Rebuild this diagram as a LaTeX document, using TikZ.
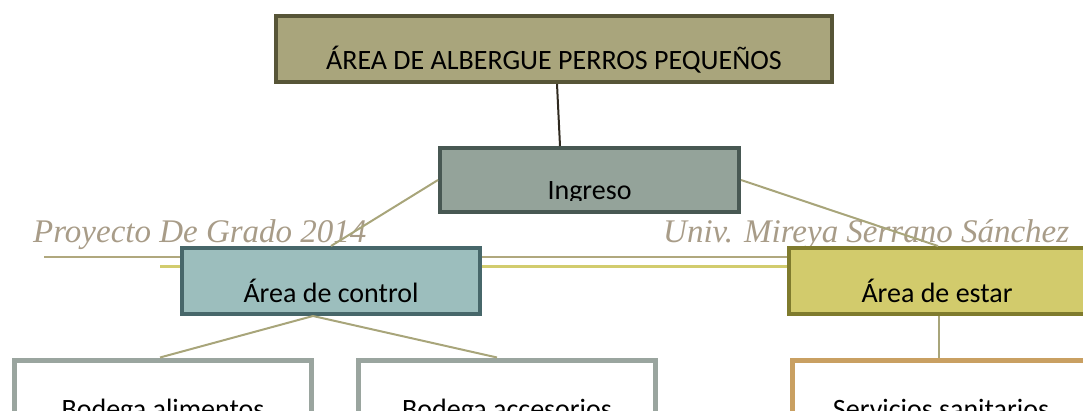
\documentclass[tikz,border=0pt]{standalone}
\usepackage{fontspec}
\setmainfont{Carlito}
\newfontfamily\wmfont{Liberation Serif}
\definecolor{topfill}{HTML}{A9A57C}
\definecolor{topdraw}{HTML}{575537}
\definecolor{ingfill}{HTML}{94A39A}
\definecolor{ingdraw}{HTML}{485853}
\definecolor{ctlfill}{HTML}{9CBEBD}
\definecolor{ctldraw}{HTML}{47676A}
\definecolor{estfill}{HTML}{D2CB6C}
\definecolor{estdraw}{HTML}{7F7B2D}
\definecolor{bodraw}{HTML}{9AA59F}
\definecolor{serdraw}{HTML}{C9A062}
\definecolor{link}{HTML}{A8A57A}
\definecolor{toplink}{HTML}{2F2A20}
\definecolor{wmtext}{HTML}{A89C88}
\definecolor{wmline}{HTML}{B0A87E}
\definecolor{wmlineb}{HTML}{D2CC6E}
\tikzset{
  box/.style={rectangle, line width=4pt, inner sep=0pt},
  lbl/.style={anchor=base, inner sep=0pt, font=\fontsize{28}{32}\selectfont},
  conn/.style={link, line width=2pt},
  wm/.style={anchor=base west, inner sep=0pt, text=wmtext, font=\wmfont\itshape\fontsize{33}{36}\selectfont},
}
\begin{document}
\begin{tikzpicture}[x=1pt,y=-1pt]
\useasboundingbox (0,0) rectangle (1083,411);
\clip (0,0) rectangle (1083,411);
% watermark
\node[wm] (wm1) at (33,243) {Proyecto De Grado 2014};
\node[wm] (wm2) at (663,243) {Univ. Mireya Serrano Sánchez};
\coordinate (l1a) at (44,257.5);
\coordinate (l1b) at (790,257.5);
\coordinate (l2a) at (160,266.5);
\coordinate (l2b) at (790,266.5);
\draw[wmline, line width=2pt] (l1a) -- (l1b);
\draw[wmlineb, line width=2.5pt] (l2a) -- (l2b);
% boxes
\node[box, draw=topdraw, fill=topfill, minimum width=556pt, minimum height=66pt] (top) at (554,49) {};
\node[box, draw=ingdraw, fill=ingfill, minimum width=299pt, minimum height=64pt] (ing) at (589.5,180) {};
\node[box, draw=ctldraw, fill=ctlfill, minimum width=298pt, minimum height=66pt] (ctl) at (331,281) {};
\node[box, draw=estdraw, fill=estfill, minimum width=298pt, minimum height=66pt] (est) at (938,281) {};
\node[box, draw=bodraw, fill=white, line width=5pt, minimum width=297pt, minimum height=100pt] (ba) at (163,410) {};
\node[box, draw=bodraw, fill=white, line width=5pt, minimum width=297pt, minimum height=100pt] (bc) at (507,410) {};
\node[box, draw=serdraw, fill=white, line width=5pt, minimum width=297pt, minimum height=100pt] (ss) at (941,410) {};
% connectors
\coordinate (tS) at (top.south -| 557,0);
\coordinate (iN) at (ing.north -| 560,0);
\draw[toplink, line width=2pt] (tS) -- (iN);
\draw[conn] (ing.west) -- (ctl.north);
\draw[conn] (ing.east) -- (est.north);
\coordinate (cS) at (ctl.south -| 313,0);
\coordinate (baN) at (ba.north -| 160,0);
\coordinate (bcN) at (bc.north -| 497,0);
\draw[conn] (cS) -- (baN);
\draw[conn] (cS) -- (bcN);
\coordinate (eS) at (est.south -| 939,0);
\coordinate (sN) at (ss.north -| 939,0);
\draw[conn] (eS) -- (sN);
% labels
\node[lbl] (tTop) at (554,70) {ÁREA DE ALBERGUE PERROS PEQUEÑOS};
\begin{scope}
\clip (ing.north west) rectangle (741,201);
\node[lbl] (tIng) at (589.5,200) {Ingreso};
\end{scope}
\node[lbl] (tCtl) at (331,302) {Área de control};
\node[lbl] (tEst) at (937,302) {Área de estar};
\node[lbl] (tBa) at (163,418) {Bodega alimentos};
\node[lbl] (tBc) at (507,418) {Bodega accesorios};
\node[lbl] (tSs) at (941,418) {Servicios sanitarios};
\end{tikzpicture}
\end{document}
